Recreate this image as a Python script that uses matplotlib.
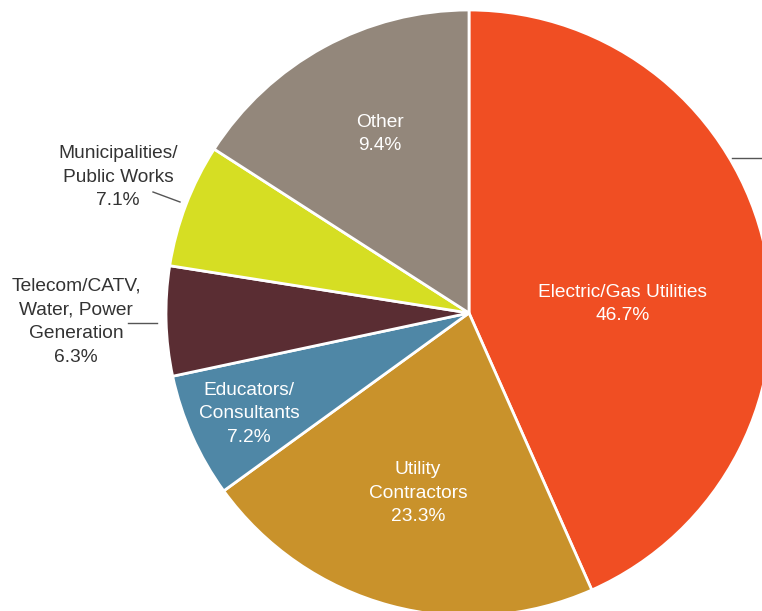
import matplotlib.pyplot as plt

# slice order, clockwise from 12 o'clock
categories = ["Electric/Gas Utilities", "Utility\nContractors", "Educators/\nConsultants",
              "Telecom/CATV,\nWater, Power\nGeneration", "Municipalities/\nPublic Works", "Other"]
# shares as drawn (measured from slice angles)
shares = [43.35, 21.65, 6.64, 5.84, 6.6, 15.9]
# percentages as printed on the chart
printed_pct = [46.7, 23.3, 7.2, 6.3, 7.1, 9.4]
colors = ["#F04E23", "#C9922B", "#4F87A6", "#5A2D33", "#D6DE23", "#93877B"]

W, H = 762, 611
fig = plt.figure(figsize=(W / 100, H / 100), dpi=100)
ax = fig.add_axes([0, 0, 1, 1])

# pie center / radius in pixel coords (y flipped -> counterclock=True looks clockwise)
cx, cy, r = 469, 313, 303
ax.pie(shares, colors=colors, startangle=-90, counterclock=True, center=(cx, cy), radius=r,
       wedgeprops=dict(edgecolor="white", linewidth=2), frame=True)
ax.set_xlim(0, W)
ax.set_ylim(H, 0)
ax.axis("off")

font = "Liberation Sans"
fs = 13.8
ls = 1.52

# labels inside the pie (white)
inside = {0: (623, 304), 1: (418, 493), 2: (249, 414), 5: (380, 134)}
for i, (x, y) in inside.items():
    ax.text(x, y, f"{categories[i]}\n{printed_pct[i]}%", ha="center", va="center",
            color="white", fontsize=fs, family=font, linespacing=ls)

# labels outside with leader lines
outside = {3: ((76, 322), (128, 323), (157, 323)), 4: ((118, 177), (153, 192), (180, 202))}
for i, ((x, y), p1, p2) in outside.items():
    ax.text(x, y, f"{categories[i]}\n{printed_pct[i]}%", ha="center", va="center",
            color="#333333", fontsize=fs, family=font, linespacing=ls)
    ax.plot([p1[0], p2[0]], [p1[1], p2[1]], color="#555555", lw=1)

# leader line toward a label outside the crop
ax.plot([732, 762], [158, 158], color="#555555", lw=1)

fig.savefig("out.png", dpi=100)
